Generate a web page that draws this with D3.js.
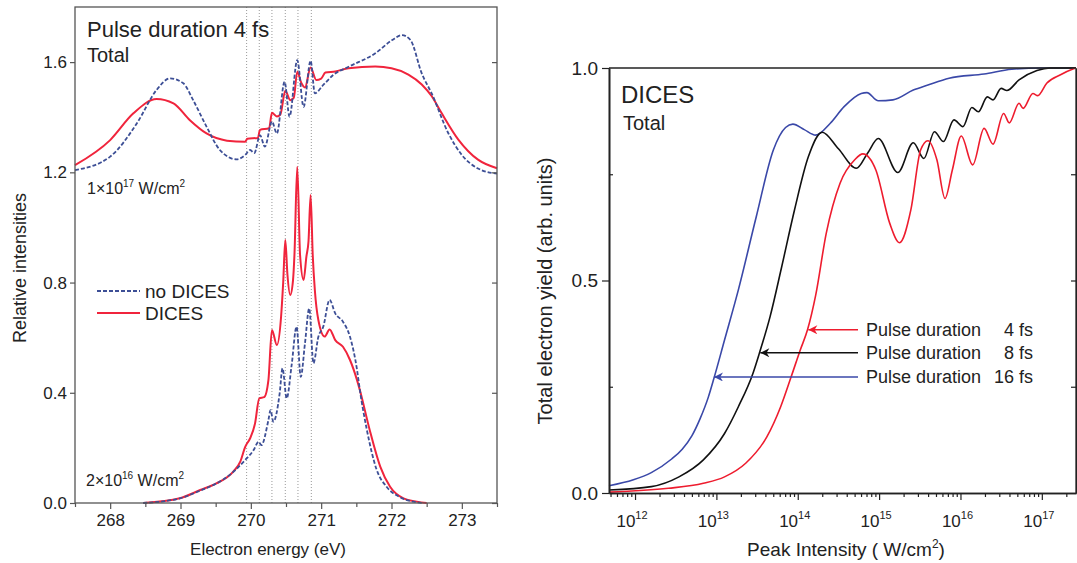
<!DOCTYPE html>
<html>
<head>
<meta charset="utf-8">
<script src="https://cdn.jsdelivr.net/npm/d3@7"></script>
<style>
  body { margin: 0; background: #fff; }
  text { font-family: "Liberation Sans", Arial, sans-serif; fill: #222; }
</style>
</head>
<body>
<script>
const width = 1077;
const height = 563;

// left panel: electron spectra, 1e17 W/cm2 (upper) and 2e16 W/cm2 (lower)
const hiDicesE = [267.5, 268.0, 268.33, 268.66, 268.9, 269.13, 269.37, 269.66, 269.92, 269.95, 270.1, 270.13, 270.26, 270.3, 270.37, 270.42, 270.49, 270.56, 270.61, 270.66, 270.72, 270.77, 270.85, 270.93, 271.0, 271.06, 271.2, 271.39, 271.77, 272.0, 272.24, 272.43, 272.57, 272.71, 272.95, 273.23, 273.5];
const hiDicesV = [1.226, 1.317, 1.414, 1.466, 1.45, 1.39, 1.341, 1.315, 1.311, 1.322, 1.325, 1.354, 1.36, 1.416, 1.403, 1.41, 1.496, 1.462, 1.47, 1.565, 1.523, 1.508, 1.58, 1.535, 1.54, 1.562, 1.566, 1.578, 1.584, 1.578, 1.555, 1.519, 1.477, 1.416, 1.319, 1.246, 1.215];
const hiNoDicesE = [267.5, 268.0, 268.38, 268.66, 268.85, 269.04, 269.18, 269.37, 269.56, 269.8, 269.92, 269.99, 270.05, 270.13, 270.2, 270.3, 270.37, 270.48, 270.55, 270.66, 270.75, 270.85, 270.91, 271.03, 271.17, 271.39, 271.77, 272.01, 272.15, 272.27, 272.43, 272.57, 272.81, 273.0, 273.23, 273.5];
const hiNoDicesV = [1.208, 1.257, 1.378, 1.499, 1.541, 1.523, 1.462, 1.366, 1.281, 1.247, 1.263, 1.281, 1.27, 1.335, 1.293, 1.384, 1.341, 1.529, 1.402, 1.607, 1.438, 1.605, 1.487, 1.517, 1.553, 1.583, 1.632, 1.68, 1.698, 1.68, 1.559, 1.487, 1.341, 1.263, 1.214, 1.195];
const loDicesE = [268.47, 268.99, 269.28, 269.51, 269.75, 269.85, 269.92, 269.99, 270.06, 270.12, 270.19, 270.25, 270.3, 270.37, 270.43, 270.46, 270.49, 270.52, 270.56, 270.6, 270.62, 270.66, 270.7, 270.75, 270.79, 270.82, 270.85, 270.88, 270.91, 270.96, 271.05, 271.12, 271.2, 271.31, 271.41, 271.51, 271.55, 271.69, 271.84, 271.98, 272.17, 272.36, 272.5];
const loDicesV = [0, 0.017, 0.047, 0.071, 0.114, 0.15, 0.204, 0.235, 0.289, 0.38, 0.384, 0.446, 0.628, 0.573, 0.676, 0.8, 0.954, 0.83, 0.755, 0.809, 0.9, 1.22, 0.9, 0.809, 0.894, 0.95, 1.118, 0.9, 0.773, 0.664, 0.604, 0.63, 0.591, 0.567, 0.519, 0.446, 0.41, 0.265, 0.132, 0.059, 0.017, 0.005, 0];
const loNoDicesE = [268.47, 268.99, 269.28, 269.51, 269.7, 269.92, 270.04, 270.11, 270.15, 270.25, 270.28, 270.32, 270.41, 270.45, 270.51, 270.58, 270.65, 270.71, 270.77, 270.83, 270.89, 270.96, 271.03, 271.12, 271.2, 271.31, 271.41, 271.51, 271.55, 271.65, 271.79, 271.93, 272.12, 272.31, 272.45];
const loNoDicesV = [0, 0.017, 0.045, 0.071, 0.102, 0.156, 0.192, 0.222, 0.21, 0.301, 0.337, 0.295, 0.398, 0.489, 0.38, 0.5, 0.64, 0.458, 0.58, 0.706, 0.507, 0.603, 0.64, 0.737, 0.688, 0.658, 0.603, 0.483, 0.41, 0.265, 0.12, 0.059, 0.021, 0.005, 0];
const resonanceE = [269.94, 270.12, 270.3, 270.49, 270.67, 270.86];
const energyTicks = [268, 269, 270, 271, 272, 273];
const energyMinor = [267.5, 268.5, 269.5, 270.5, 271.5, 272.5, 273.5];
const intensityTicks = [0, 0.4, 0.8, 1.2, 1.6];

// right panel: total yield vs peak intensity (log10 W/cm2)
const logI16 = [11.68, 11.98, 12.2, 12.45, 12.58, 12.7, 12.8, 12.9, 12.97, 13.1, 13.27, 13.49, 13.7, 13.85, 13.94, 14.08, 14.22, 14.4, 14.57, 14.78, 14.85, 14.99, 15.17, 15.42, 15.6, 15.86, 16.29, 16.63, 17.0, 17.42];
const yield16 = [0.017, 0.031, 0.048, 0.08, 0.103, 0.135, 0.175, 0.225, 0.27, 0.36, 0.478, 0.65, 0.807, 0.86, 0.868, 0.855, 0.842, 0.87, 0.909, 0.94, 0.942, 0.923, 0.925, 0.948, 0.96, 0.976, 0.986, 0.997, 1.0, 1.0];
const logI8 = [11.68, 12.2, 12.54, 12.84, 13.1, 13.27, 13.45, 13.53, 13.66, 13.8, 13.96, 14.13, 14.3, 14.5, 14.72, 14.86, 14.99, 15.23, 15.42, 15.55, 15.68, 15.79, 15.92, 16.03, 16.14, 16.22, 16.33, 16.4, 16.5, 16.57, 16.72, 16.94, 17.1, 17.42];
const yield8 = [0.007, 0.015, 0.038, 0.078, 0.14, 0.203, 0.282, 0.33, 0.415, 0.53, 0.666, 0.791, 0.849, 0.81, 0.764, 0.8, 0.834, 0.754, 0.824, 0.787, 0.85, 0.827, 0.878, 0.862, 0.907, 0.897, 0.932, 0.925, 0.952, 0.947, 0.972, 0.994, 1.0, 1.0];
const logI4 = [11.68, 12.41, 12.84, 13.1, 13.36, 13.62, 13.79, 13.92, 14.03, 14.12, 14.22, 14.35, 14.52, 14.7, 14.8, 14.96, 15.13, 15.25, 15.39, 15.51, 15.6, 15.71, 15.81, 15.9, 16.01, 16.15, 16.29, 16.4, 16.53, 16.6, 16.72, 16.77, 16.89, 16.95, 17.06, 17.23, 17.39, 17.42];
const yield4 = [0.002, 0.011, 0.023, 0.038, 0.07, 0.132, 0.203, 0.274, 0.336, 0.384, 0.465, 0.611, 0.729, 0.784, 0.798, 0.76, 0.635, 0.589, 0.666, 0.807, 0.829, 0.784, 0.693, 0.76, 0.84, 0.772, 0.858, 0.821, 0.893, 0.871, 0.917, 0.905, 0.94, 0.935, 0.964, 0.984, 0.998, 1.0];
const pulseLabels = ["4 fs", "8 fs", "16 fs"];
const pulseColors = ["#ee1c2e", "#111111", "#3a48a8"];
const arrowLogI = [14.13, 13.54, 12.97];
const arrowYield = [0.384, 0.33, 0.273];
const decadeTicks = [12, 13, 14, 15, 16, 17];
const yieldTicks = [0, 0.5, 1.0];

const svg = d3.select("body")
  .append("svg")
  .attr("width", width)
  .attr("height", height);

const red = "#f0243c";
const blueDash = "#3d4f96";

// ---------- left panel ----------
const xE = d3.scaleLinear().domain([267.5, 273.5]).range([75, 497]);
const yR = d3.scaleLinear().domain([0, 1.8]).range([503, 7]);

const left = svg.append("g");

left.selectAll("line.res")
  .data(resonanceE)
  .enter()
  .append("line")
  .attr("x1", d => xE(d))
  .attr("x2", d => xE(d))
  .attr("y1", yR(1.8))
  .attr("y2", yR(0))
  .attr("stroke", "#999")
  .attr("stroke-width", 1)
  .attr("stroke-dasharray", "1,2");

const lineE = d3.line()
  .x(d => xE(d[0]))
  .y(d => yR(d[1]))
  .curve(d3.curveMonotoneX);

[[hiDicesE, hiDicesV, false], [loDicesE, loDicesV, false], [hiNoDicesE, hiNoDicesV, true], [loNoDicesE, loNoDicesV, true]]
  .forEach(s => {
    left.append("path")
      .attr("d", lineE(d3.zip(s[0], s[1])))
      .attr("fill", "none")
      .attr("stroke", s[2] ? blueDash : red)
      .attr("stroke-width", s[2] ? 1.8 : 2)
      .attr("stroke-dasharray", s[2] ? "4,2" : null);
  });

left.append("rect")
  .attr("x", 75).attr("y", 7)
  .attr("width", 422).attr("height", 496)
  .attr("fill", "none")
  .attr("stroke", "#555")
  .attr("stroke-width", 1.3);

const axE = left.append("g")
  .attr("transform", "translate(0,503)")
  .call(d3.axisBottom(xE).tickValues(energyTicks).tickSize(6).tickPadding(5).tickFormat(d3.format("d")));
left.append("g")
  .attr("transform", "translate(0,503)")
  .call(d3.axisBottom(xE).tickValues(energyMinor).tickSize(4).tickFormat(""));
const axR = left.append("g")
  .attr("transform", "translate(75,0)")
  .call(d3.axisLeft(yR).tickValues(intensityTicks).tickSize(5).tickPadding(3).tickFormat(d3.format(".1f")));
left.append("g")
  .attr("transform", "translate(497,0)")
  .call(d3.axisLeft(yR).tickValues(intensityTicks).tickSize(5).tickFormat(""));

left.selectAll(".domain").remove();
left.selectAll(".tick line").attr("stroke", "#555").attr("stroke-width", 1.2);
axE.selectAll("text").attr("font-size", 17).attr("fill", "#222");
axR.selectAll("text").attr("font-size", 17).attr("fill", "#222");

left.append("text")
  .attr("x", 87).attr("y", 37)
  .attr("font-size", 22)
  .text("Pulse duration 4 fs");
left.append("text")
  .attr("x", 87).attr("y", 62)
  .attr("font-size", 20)
  .text("Total");

const fluence = (g, x, y, mant, exp) => {
  const t = g.append("text").attr("x", x).attr("y", y).attr("font-size", 16);
  t.append("tspan").text(mant + "\u00d710");
  t.append("tspan").attr("dy", -7).attr("font-size", 10).text(exp);
  t.append("tspan").attr("dy", 7).text(" W/cm");
  t.append("tspan").attr("dy", -7).attr("font-size", 10).text("2");
};
fluence(left, 87, 194, "1", "17");
fluence(left, 86, 486, "2", "16");

// legend
left.append("line")
  .attr("x1", 97).attr("x2", 140).attr("y1", 291).attr("y2", 291)
  .attr("stroke", blueDash).attr("stroke-width", 1.8).attr("stroke-dasharray", "4,2");
left.append("line")
  .attr("x1", 97).attr("x2", 140).attr("y1", 313).attr("y2", 313)
  .attr("stroke", red).attr("stroke-width", 2);
left.append("text").attr("x", 145).attr("y", 298).attr("font-size", 19).text("no DICES");
left.append("text").attr("x", 145).attr("y", 320).attr("font-size", 19).text("DICES");

left.append("text")
  .attr("transform", "translate(26,268) rotate(-90)")
  .attr("text-anchor", "middle")
  .attr("font-size", 18)
  .text("Relative intensities");
left.append("text")
  .attr("x", 268).attr("y", 555)
  .attr("text-anchor", "middle")
  .attr("font-size", 17)
  .text("Electron energy (eV)");

// ---------- right panel ----------
const xI = d3.scaleLog().domain([Math.pow(10, 11.68), Math.pow(10, 17.42)]).range([609, 1076]);
const yY = d3.scaleLinear().domain([0, 1]).range([493, 68]);

const right = svg.append("g");

const lineI = d3.line()
  .x(d => xI(Math.pow(10, d[0])))
  .y(d => yY(d[1]))
  .curve(d3.curveMonotoneX);

[[logI16, yield16, pulseColors[2]], [logI8, yield8, pulseColors[1]], [logI4, yield4, pulseColors[0]]]
  .forEach(s => {
    right.append("path")
      .attr("d", lineI(d3.zip(s[0], s[1])))
      .attr("fill", "none")
      .attr("stroke", s[2])
      .attr("stroke-width", 1.6);
  });

// frame
right.append("line").attr("x1", 609).attr("x2", 1076).attr("y1", 68).attr("y2", 68)
  .attr("stroke", "#222").attr("stroke-width", 1.6);
right.append("line").attr("x1", 1076).attr("x2", 1076).attr("y1", 68).attr("y2", 493)
  .attr("stroke", "#444").attr("stroke-width", 1.2);

const minorI = [];
for (let d = 11; d <= 17; d++) {
  for (let k = 2; k <= 9; k++) {
    const v = k * Math.pow(10, d);
    if (v > xI.domain()[0] && v < xI.domain()[1]) minorI.push(v);
  }
}

right.append("g")
  .attr("transform", "translate(0,493)")
  .call(d3.axisBottom(xI).tickValues(decadeTicks.map(d => Math.pow(10, d))).tickSize(7).tickSizeOuter(0).tickFormat(""));
right.append("g")
  .attr("transform", "translate(0,493)")
  .call(d3.axisBottom(xI).tickValues(minorI).tickSize(4).tickSizeOuter(0).tickFormat(""));
const axY = right.append("g")
  .attr("transform", "translate(609,0)")
  .call(d3.axisLeft(yY).tickValues(yieldTicks).tickSize(7).tickSizeOuter(0).tickPadding(4).tickFormat(d3.format(".1f")));
right.append("g")
  .attr("transform", "translate(609,0)")
  .call(d3.axisRight(yY).tickValues([0.25, 0.75]).tickSize(4).tickSizeOuter(0).tickFormat(""));
right.append("g")
  .attr("transform", "translate(1076,0)")
  .call(d3.axisLeft(yY).tickValues([0.25, 0.5, 0.75]).tickSize(5).tickSizeOuter(0).tickFormat(""));

right.selectAll(".domain").attr("stroke", "#222").attr("stroke-width", 1.6);
right.selectAll(".tick line").attr("stroke", "#222").attr("stroke-width", 1.2);
axY.selectAll("text").attr("font-size", 19).attr("fill", "#222");

decadeTicks.forEach(d => {
  const t = right.append("text")
    .attr("x", xI(Math.pow(10, d)) - 3)
    .attr("y", 527)
    .attr("text-anchor", "middle")
    .attr("font-size", 17);
  t.append("tspan").text("10");
  t.append("tspan").attr("dy", -8).attr("font-size", 11).text(d);
});

right.append("text")
  .attr("x", 621).attr("y", 103)
  .attr("font-size", 24)
  .text("DICES");
right.append("text")
  .attr("x", 623).attr("y", 130)
  .attr("font-size", 20)
  .text("Total");

const ttl = right.append("text")
  .attr("x", 846).attr("y", 556)
  .attr("text-anchor", "middle")
  .attr("font-size", 19);
ttl.append("tspan").text("Peak Intensity ( W/cm");
ttl.append("tspan").attr("dy", -8).attr("font-size", 12).text("2");
ttl.append("tspan").attr("dy", 8).text(")");

right.append("text")
  .attr("transform", "translate(552,291) rotate(-90)")
  .attr("text-anchor", "middle")
  .attr("font-size", 20)
  .text("Total electron yield (arb. units)");

// arrows with pulse-duration labels
const defs = svg.append("defs");
pulseColors.forEach((c, i) => {
  defs.append("marker")
    .attr("id", "arr" + i)
    .attr("viewBox", "0 0 10 10")
    .attr("refX", 10).attr("refY", 5)
    .attr("markerWidth", 12).attr("markerHeight", 9)
    .attr("markerUnits", "userSpaceOnUse")
    .attr("orient", "auto")
    .append("path")
    .attr("d", "M0,0L10,5L0,10L3,5Z")
    .attr("fill", c);
});

pulseLabels.forEach((lab, i) => {
  const y = yY(arrowYield[i]);
  right.append("line")
    .attr("x1", 858).attr("x2", xI(Math.pow(10, arrowLogI[i])))
    .attr("y1", y).attr("y2", y)
    .attr("stroke", pulseColors[i])
    .attr("stroke-width", 1.4)
    .attr("marker-end", "url(#arr" + i + ")");
  right.append("text")
    .attr("x", 866).attr("y", y + 6)
    .attr("font-size", 18)
    .attr("fill", pulseColors[i])
    .text("Pulse duration");
  right.append("text")
    .attr("x", 1033).attr("y", y + 6)
    .attr("text-anchor", "end")
    .attr("font-size", 18)
    .attr("fill", pulseColors[i])
    .text(lab);
});
</script>
</body>
</html>
